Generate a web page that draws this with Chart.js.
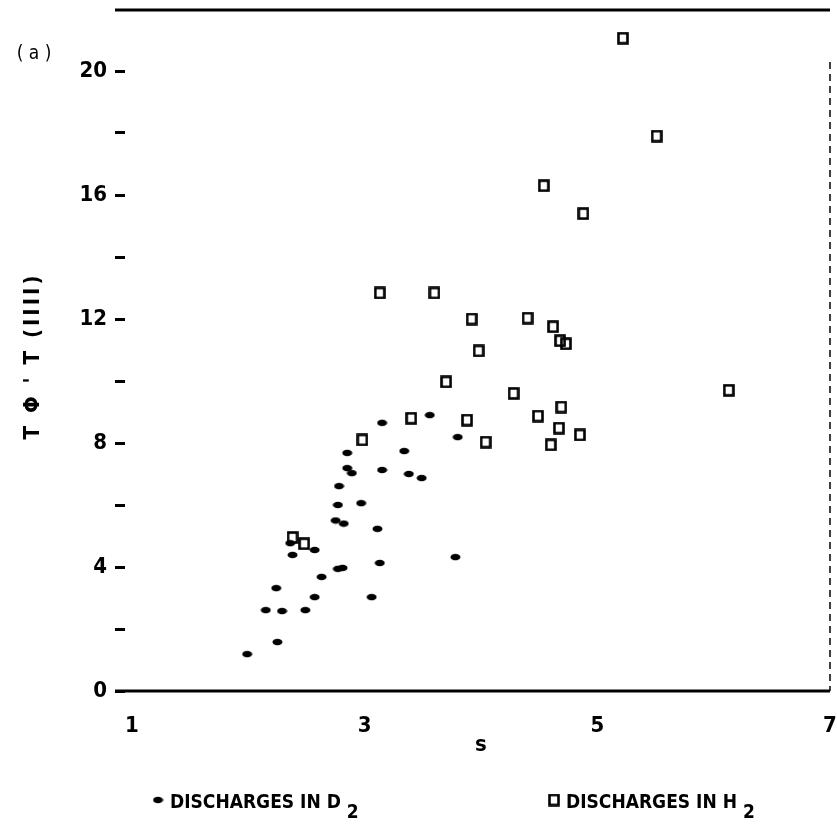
<!DOCTYPE html>
<html>
<head>
<meta charset="utf-8">
<script src="https://cdn.jsdelivr.net/npm/chart.js@4.4.1/dist/chart.umd.min.js"></script>
<style>
  html, body { margin: 0; padding: 0; background: #fff; }
  #wrap { width: 837px; height: 826px; position: relative; }
</style>
</head>
<body>
<div id="wrap"><canvas id="c"></canvas></div>
<script>
// discharges in D2 (small filled dashes)
var d2X = [1.99, 2.25, 2.15, 2.29, 2.49, 2.24, 2.57, 3.06, 2.63, 2.77, 2.81, 3.13, 2.38, 2.36, 2.57,
           3.78, 3.11, 2.75, 2.82, 2.77, 2.97, 2.78, 2.85, 2.89, 3.15, 3.38, 3.49, 2.85, 3.34, 3.15, 3.56, 3.80];
var d2Y = [1.19, 1.58, 2.61, 2.58, 2.61, 3.32, 3.03, 3.03, 3.68, 3.94, 3.97, 4.13, 4.39, 4.77, 4.55,
           4.32, 5.23, 5.50, 5.40, 6.00, 6.06, 6.61, 7.19, 7.03, 7.13, 7.00, 6.87, 7.68, 7.74, 8.65, 8.90, 8.19];

// discharges in H2 (open squares)
var h2X = [2.38, 2.48, 2.98, 3.13, 3.60, 3.92, 4.40, 3.98, 3.70, 3.40, 3.88, 4.04, 4.28, 4.49, 4.60,
           4.67, 4.69, 4.85, 4.62, 4.68, 4.73, 4.54, 4.88, 5.22, 5.51, 6.13];
var h2Y = [4.95, 4.75, 8.10, 12.84, 12.84, 12.00, 12.03, 10.97, 9.97, 8.80, 8.74, 8.03, 9.60, 8.87, 7.94,
           8.48, 9.16, 8.26, 11.75, 11.30, 11.20, 16.30, 15.40, 21.06, 17.90, 9.70];

var xTicks = [1, 3, 5, 7];
var yTicks = [0, 2, 4, 6, 8, 10, 12, 14, 16, 18, 20];
var yLabeled = [0, 4, 8, 12, 16, 20];

var FONT = "'DejaVu Sans Condensed', 'DejaVu Sans', sans-serif";

function pts(xs, ys) {
  return xs.map(function (x, i) { return { x: x, y: ys[i] }; });
}

// marker images
function dotImg() {
  var c = document.createElement('canvas');
  c.width = 11; c.height = 8;
  var g = c.getContext('2d');
  g.fillStyle = '#000';
  g.beginPath();
  g.ellipse(5.5, 4, 5, 3.2, 0, 0, Math.PI * 2);
  g.fill();
  return c;
}
function boxImg() {
  var c = document.createElement('canvas');
  c.width = 12; c.height = 13;
  var g = c.getContext('2d');
  g.strokeStyle = '#000';
  g.lineWidth = 2.6;
  g.strokeRect(1.5, 1.5, 9, 10);
  return c;
}
var DOT = dotImg(), BOX = boxImg();

var decor = {
  id: 'decor',
  afterDraw: function (chart) {
    var ctx = chart.ctx, a = chart.chartArea;
    var xs = chart.scales.x;
    ctx.save();
    ctx.strokeStyle = '#000';
    ctx.fillStyle = '#000';

    // top and bottom frame lines
    ctx.lineWidth = 3;
    ctx.beginPath();
    ctx.moveTo(115, a.top + 1); ctx.lineTo(a.right, a.top + 1);
    ctx.moveTo(115, a.bottom); ctx.lineTo(a.right, a.bottom);
    ctx.stroke();

    // right edge, broken
    ctx.lineWidth = 1.5;
    ctx.setLineDash([7, 5]);
    ctx.beginPath();
    ctx.moveTo(a.right, 62); ctx.lineTo(a.right, a.bottom);
    ctx.stroke();
    ctx.setLineDash([]);

    // panel tag
    ctx.font = "19px " + FONT;
    ctx.textAlign = 'center';
    ctx.textBaseline = 'middle';
    ctx.fillText('( a )', 34, 54);

    // x title
    ctx.font = "bold 22px " + FONT;
    ctx.fillText('s', xs.getPixelForValue(4), 745);

    // y title
    ctx.save();
    ctx.translate(33, 356);
    ctx.rotate(-Math.PI / 2);
    ctx.font = "bold 22px " + FONT;
    ctx.letterSpacing = '3px';
    ctx.fillText("T \u03A6 ' T (IIII)", 0, 0);
    ctx.restore();

    // legend
    ctx.font = "bold 19px " + FONT;
    ctx.textAlign = 'left';
    ctx.textBaseline = 'alphabetic';
    function entry(img, mx, label, sub) {
      ctx.drawImage(img, mx - img.width / 2, 800 - img.height / 2);
      var tx = mx + 12;
      ctx.fillText(label, tx, 808);
      var w = ctx.measureText(label).width;
      ctx.fillText(sub, tx + w + 6, 818);
    }
    entry(DOT, 158, 'DISCHARGES IN D', '2');
    entry(BOX, 554, 'DISCHARGES IN H', '2');
    ctx.restore();
  }
};

new Chart(document.getElementById('c'), {
  type: 'scatter',
  data: {
    datasets: [
      { label: 'DISCHARGES IN H2', data: pts(h2X, h2Y), pointStyle: BOX, pointRadius: 6, pointHoverRadius: 6 },
      { label: 'DISCHARGES IN D2', data: pts(d2X, d2Y), pointStyle: DOT, pointRadius: 5, pointHoverRadius: 5 }
    ]
  },
  options: {
    responsive: true,
    maintainAspectRatio: false,
    animation: false,
    events: [],
    layout: { padding: { top: 9, right: 6, left: 0, bottom: 0 } },
    plugins: { legend: { display: false }, tooltip: { enabled: false } },
    scales: {
      x: {
        type: 'linear', min: 0.94, max: 7,
        afterBuildTicks: function (s) { s.ticks = xTicks.map(function (v) { return { value: v }; }); },
        afterFit: function (s) { s.height = 135; s.paddingLeft = 0; s.paddingRight = 0; },
        grid: { display: false, drawTicks: false },
        border: { display: false },
        ticks: { color: '#000', padding: 22, maxRotation: 0, font: { family: FONT, size: 22, weight: 'bold' } }
      },
      y: {
        type: 'linear', min: 0, max: 22,
        afterBuildTicks: function (s) { s.ticks = yTicks.map(function (v) { return { value: v }; }); },
        afterFit: function (s) { s.width = 125; s.paddingTop = 0; s.paddingBottom = 0; },
        grid: { display: true, drawOnChartArea: false, drawTicks: true, tickLength: 10, tickWidth: 3, tickColor: '#000', color: '#000' },
        border: { display: false },
        ticks: {
          color: '#000', padding: 8,
          font: { family: FONT, size: 22, weight: 'bold' },
          callback: function (v) { return yLabeled.indexOf(v) >= 0 ? String(v) : ''; }
        }
      }
    }
  },
  plugins: [decor]
});
</script>
</body>
</html>
